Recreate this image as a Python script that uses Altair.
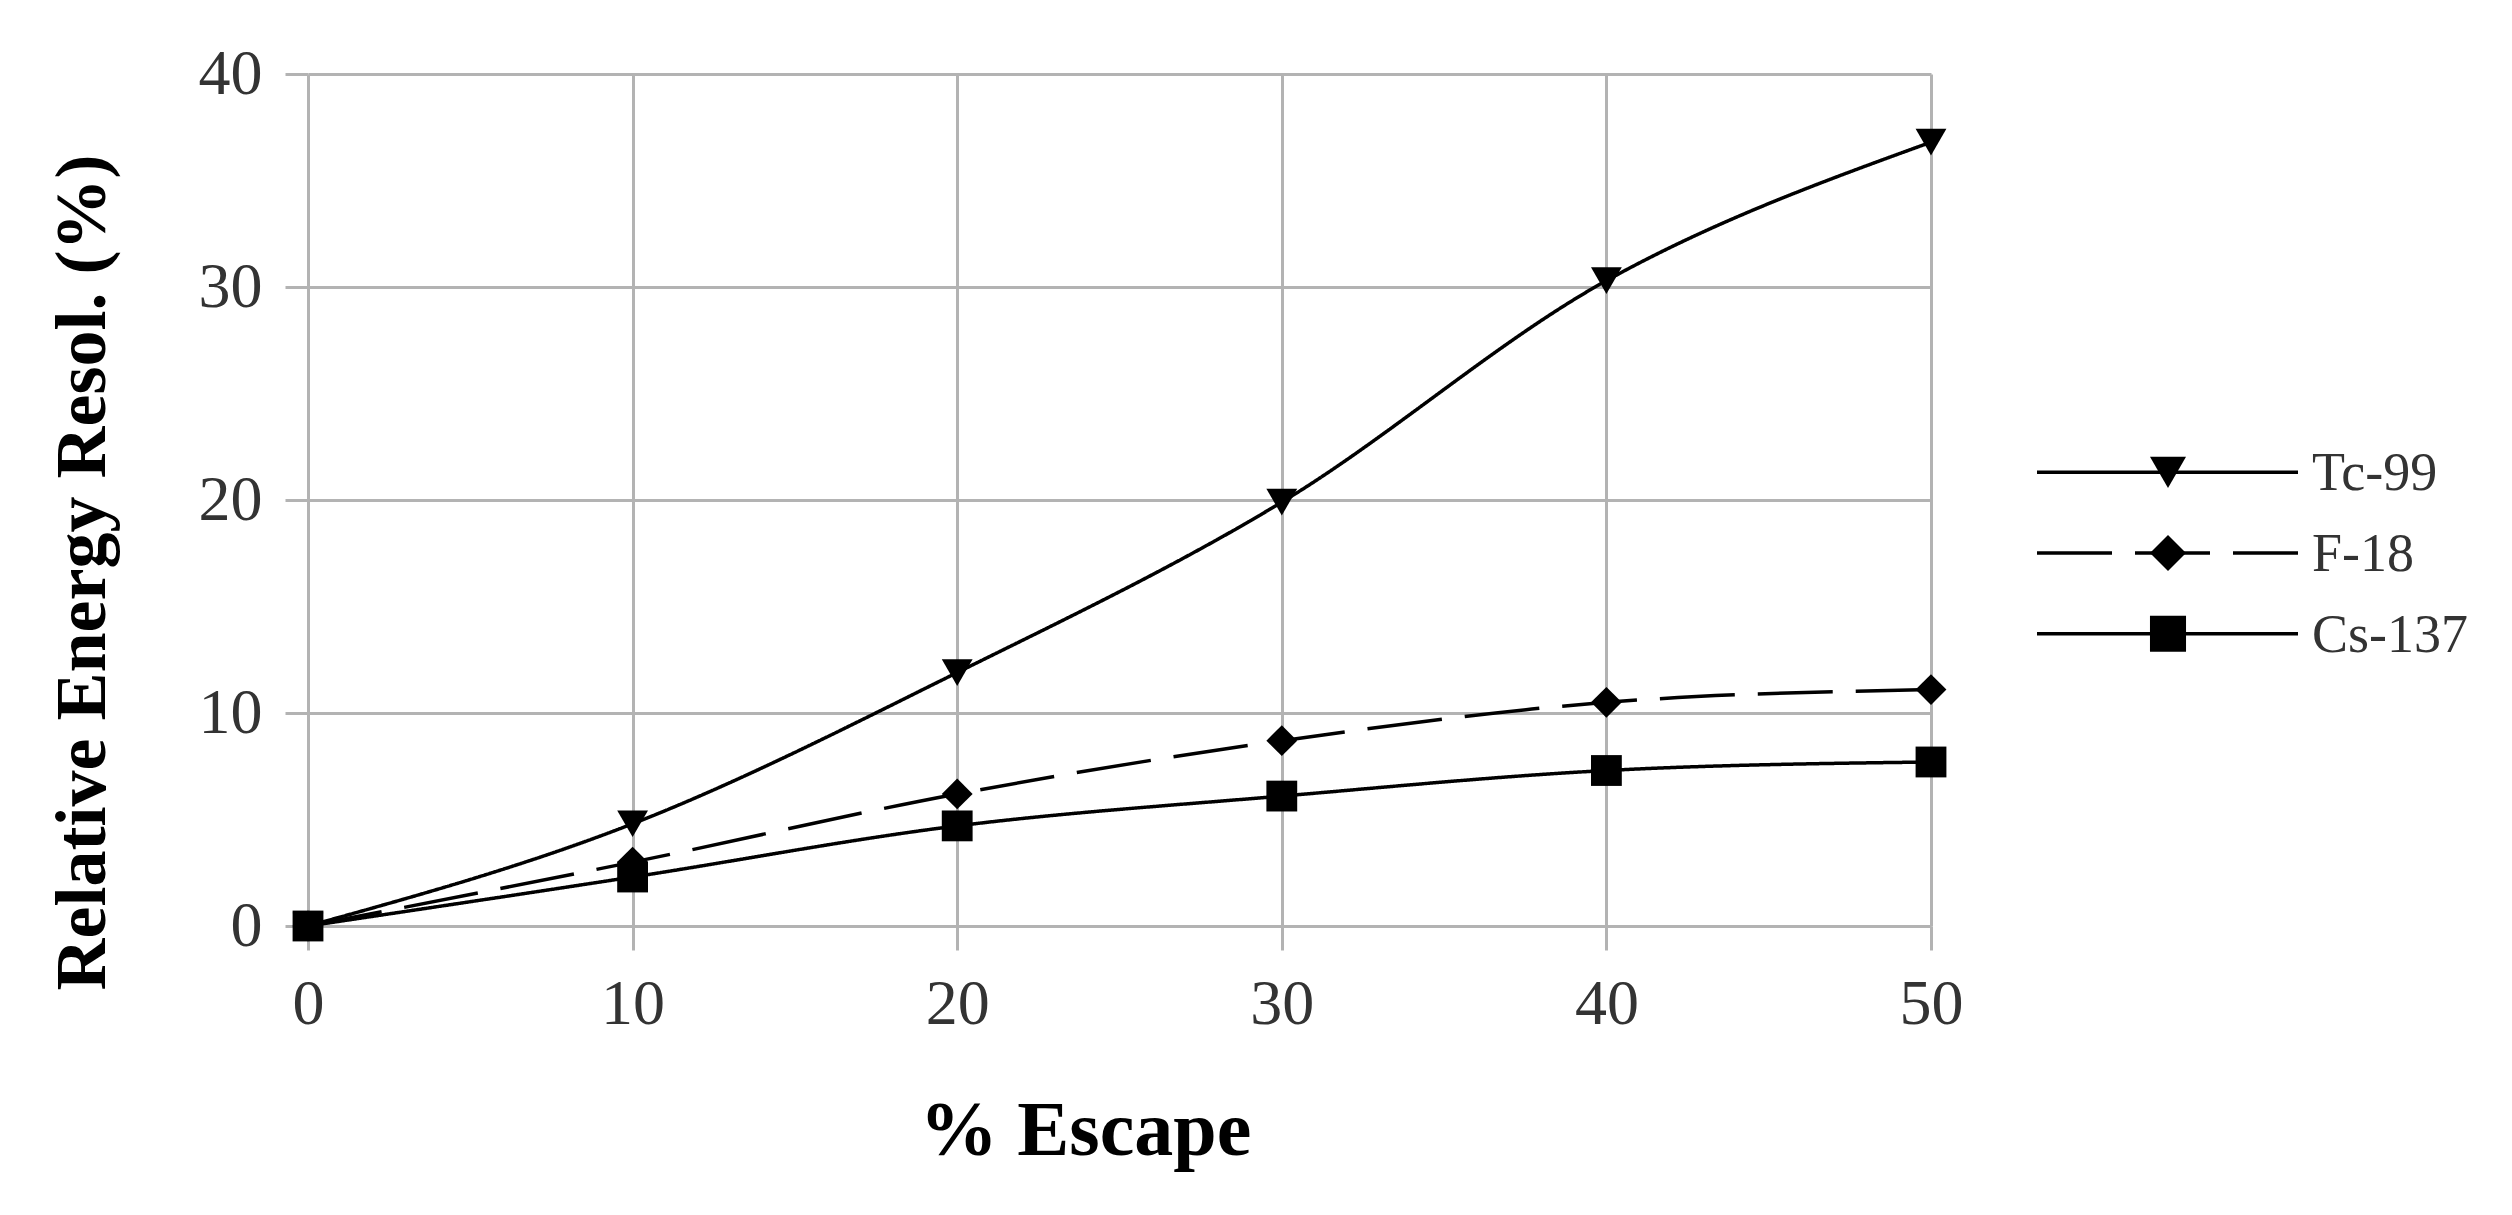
import altair as alt
import pandas as pd

escape = [0, 10, 20, 30, 40, 50]
series = ["Tc-99", "F-18", "Cs-137"]
tc99 = [0, 4.8, 11.9, 19.9, 30.3, 36.8]
f18 = [0, 3.0, 6.2, 8.7, 10.5, 11.1]
cs137 = [0, 2.3, 4.7, 6.1, 7.3, 7.7]
x_ticks = [0, 10, 20, 30, 40, 50]
y_ticks = [0, 10, 20, 30, 40]

rows = []
for name, vals in zip(series, [tc99, f18, cs137]):
    for e, v in zip(escape, vals):
        rows.append({"escape": e, "value": v, "series": name})
df = pd.DataFrame(rows)
leg_df = pd.DataFrame({"series": series})

GRID = "#b3b3b3"
FONT = "Liberation Serif"

dash_scale = alt.Scale(domain=series, range=[[1, 0], [75, 23], [1, 0]])
shape_scale = alt.Scale(domain=series, range=["triangle-down", "diamond", "square"])

x_enc = alt.X(
    "escape:Q",
    scale=alt.Scale(domain=[0, 50], nice=False),
    axis=alt.Axis(
        values=x_ticks, grid=True, gridColor=GRID, gridWidth=3, domain=False,
        ticks=True, tickColor=GRID, tickWidth=3, tickSize=24,
        labelFont=FONT, labelFontSize=64, labelColor="#333333", labelPadding=22,
        labelFlush=False, labelOverlap=False,
        title="% Escape", titleFont=FONT, titleFontSize=78, titleFontWeight="bold",
        titleColor="black", titleX=777, titleY=205, titleBaseline="middle", titleAlign="center",
    ),
)
y_enc = alt.Y(
    "value:Q",
    scale=alt.Scale(domain=[0, 40], nice=False),
    axis=alt.Axis(
        values=y_ticks, grid=True, gridColor=GRID, gridWidth=3, domain=False,
        ticks=True, tickColor=GRID, tickWidth=3, tickSize=23,
        labelFont=FONT, labelFontSize=64, labelColor="#333333", labelPadding=23,
        labelFlush=False, labelOverlap=False,
        title="Relative Energy Resol. (%)", titleFont=FONT, titleFontSize=72,
        titleFontWeight="bold", titleColor="black", titleX=-226, titleY=498,
        titleBaseline="middle", titleAlign="center", titleAngle=-90,
    ),
)

base = alt.Chart(df).encode(x=x_enc, y=y_enc)
lines = base.mark_line(interpolate="monotone", color="black", strokeWidth=3.5).encode(
    strokeDash=alt.StrokeDash("series:N", scale=dash_scale, legend=None),
    detail="series:N",
)
points = base.mark_point(filled=True, color="black", opacity=1, size=950).encode(
    shape=alt.Shape("series:N", scale=shape_scale, legend=None),
)
main = alt.layer(lines, points)

leg_y = alt.Y("series:N", sort=series,
              scale=alt.Scale(domain=series, range=[358, 600]), axis=None)
leg_base = alt.Chart(leg_df).encode(y=leg_y)
leg_rule = leg_base.mark_rule(color="black", strokeWidth=3.5).encode(
    x=alt.value(1729), x2=alt.value(1990),
    strokeDash=alt.StrokeDash("series:N", scale=dash_scale, legend=None),
)
leg_pts = leg_base.mark_point(filled=True, color="black", opacity=1, size=1300).encode(
    x=alt.value(1860),
    shape=alt.Shape("series:N", scale=shape_scale, legend=None),
)
leg_txt = leg_base.mark_text(align="left", baseline="middle", font=FONT, fontSize=54,
                             color="#333333", dy=2).encode(
    x=alt.value(2004), text="series:N",
)
legend = alt.layer(leg_rule, leg_pts, leg_txt)

chart = (
    alt.layer(main, legend)
    .resolve_scale(y="independent")
    .properties(
        width=1623, height=852,
        autosize=alt.AutoSizeParams(type="none"),
        padding={"left": 300, "top": 66, "right": 560, "bottom": 270},
        background="white",
    )
    .configure_view(stroke=None)
)

chart.save("out.html", embed_options={"renderer": "svg", "actions": False})
